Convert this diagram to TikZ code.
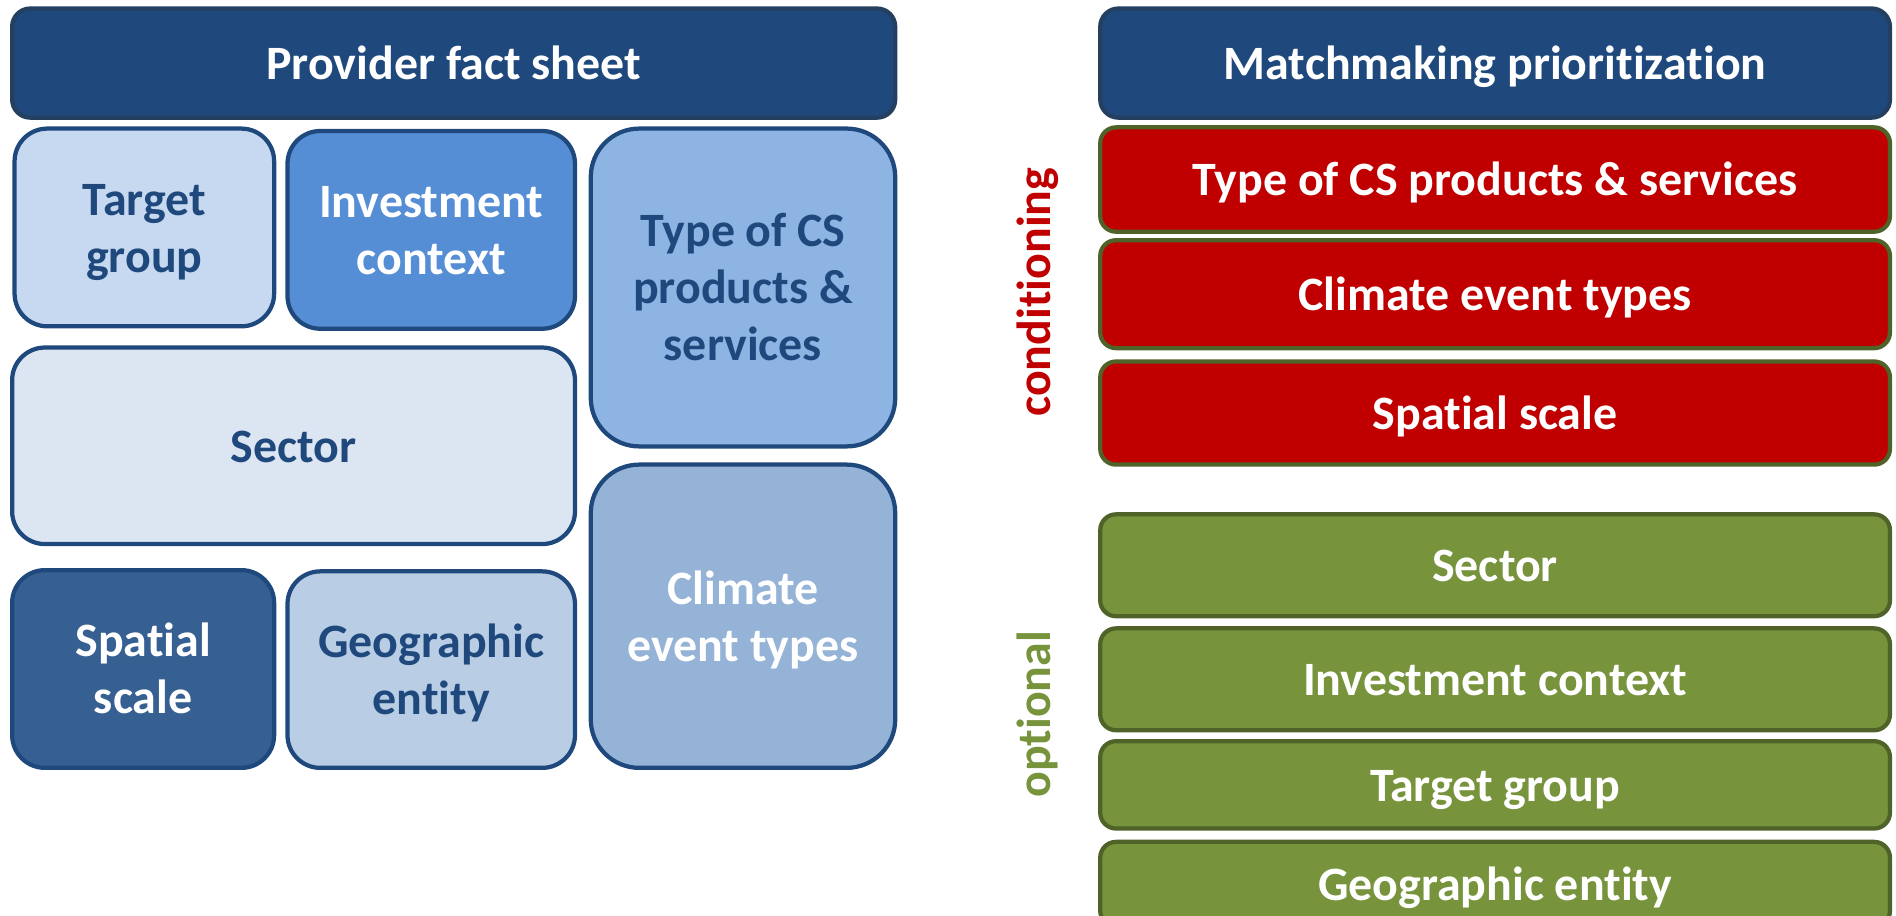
\documentclass[tikz,border=0pt]{standalone}
\usepackage{fontspec}
\setmainfont{Carlito}[Ligatures=NoCommon]
\definecolor{hdrfill}{HTML}{1F497D}
\definecolor{hdrline}{HTML}{243F60}
\definecolor{bline}{HTML}{1F497D}
\definecolor{dtext}{HTML}{1F497D}
\definecolor{tgfill}{HTML}{C6D9F1}
\definecolor{invfill}{HTML}{558ED5}
\definecolor{typefill}{HTML}{8EB4E3}
\definecolor{secfill}{HTML}{DCE6F2}
\definecolor{climfill}{HTML}{95B3D7}
\definecolor{spatfill}{HTML}{376092}
\definecolor{geofill}{HTML}{B9CDE5}
\definecolor{redfill}{HTML}{C00000}
\definecolor{grnfill}{HTML}{77933C}
\definecolor{grnline}{HTML}{4F6228}
\newcommand\topstr{\rule{0pt}{37pt}}
\newcommand\botstr{\rule[-10pt]{0pt}{10pt}}
\begin{document}
\begin{tikzpicture}[x=1pt,y=-1pt,
  lbl/.style={font=\fontsize{39.5}{47}\selectfont\bfseries},
  box/.style={lbl, draw=bline, line width=3.5pt, align=center, inner sep=0pt},
  hdr/.style={box, fill=hdrfill, draw=hdrline, text=white, rounded corners=15pt},
  rbox/.style={box, draw=grnline, text=white, rounded corners=13pt, minimum width=651pt},
  redbox/.style={rbox, fill=redfill},
  grnbox/.style={rbox, fill=grnfill},
]
\useasboundingbox (0,0) rectangle (1563,754.3);
\clip (0,0) rectangle (1563,754.3);

% left column
\node[hdr, minimum width=728pt, minimum height=90pt] (lhdr) at (374,52) {\topstr Provider fact sheet\botstr};
\node[box, fill=tgfill, text=dtext, rounded corners=27pt, minimum width=214pt, minimum height=163pt] (tg) at (119,187.5) {\topstr Target\\group\botstr};
\node[box, fill=invfill, text=white, rounded corners=27pt, minimum width=237pt, minimum height=163pt] (inv) at (355.5,189.5) {\topstr Investment\\context\botstr};
\node[box, fill=typefill, text=dtext, rounded corners=40pt, minimum width=251pt, minimum height=262pt] (type) at (612.5,237) {\topstr Type of CS\\products \&\\services\botstr};
\node[box, fill=secfill, text=dtext, rounded corners=27pt, minimum width=464pt, minimum height=162pt] (sec) at (242,367.5) {\topstr Sector\botstr};
\node[box, fill=climfill, text=white, rounded corners=40pt, minimum width=251pt, minimum height=250pt] (clim) at (612.5,508) {\topstr Climate\\event types\botstr};
\node[box, fill=spatfill, text=white, rounded corners=27pt, minimum width=216pt, minimum height=163pt] (spat) at (118,551.5) {\topstr Spatial\\scale\botstr};
\node[box, fill=geofill, text=dtext, rounded corners=27pt, minimum width=237pt, minimum height=162pt] (geo) at (355.5,552) {\topstr Geographic\\entity\botstr};

% right column
\node[hdr, minimum width=651pt, minimum height=90pt] (rhdr) at (1232.5,52) {\topstr Matchmaking prioritization\botstr};
\node[redbox, minimum height=86pt] (r1) at (1232.5,148) {\topstr Type of CS products \& services\botstr};
\node[redbox, minimum height=89pt] (r2) at (1232.5,242.5) {\topstr Climate event types\botstr};
\node[redbox, minimum height=85pt] (r3) at (1232.5,340.5) {\topstr Spatial scale\botstr};
\node[grnbox, minimum height=84pt] (g1) at (1232.5,466) {\topstr Sector\botstr};
\node[grnbox, minimum height=84pt] (g2) at (1232.5,560) {\topstr Investment context\botstr};
\node[grnbox, minimum height=72pt] (g3) at (1232.5,647) {\topstr Target group\botstr};
\node[grnbox, minimum height=70pt] (g4) at (1232.5,729) {\topstr Geographic entity\botstr};

% side labels
\node[lbl, text=redfill, rotate=90, anchor=base, inner sep=0pt] (cond) at (866,241) {conditioning};
\node[lbl, text=grnfill, rotate=90, anchor=base, inner sep=0pt] (opt) at (866,589) {optional};
\end{tikzpicture}
\end{document}
